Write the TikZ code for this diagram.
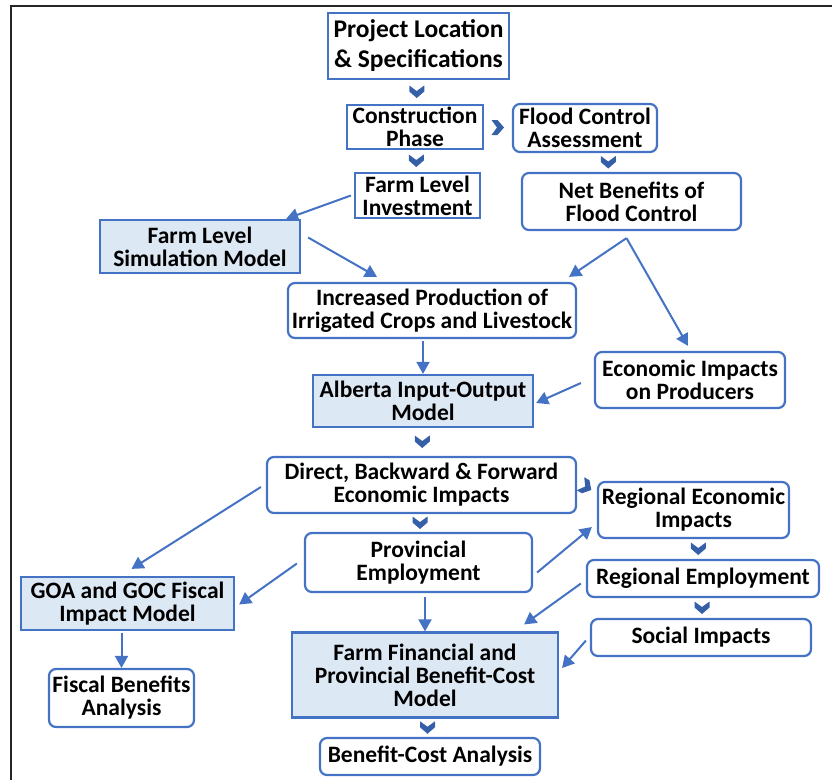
\documentclass[tikz,border=0pt]{standalone}
\usepackage{fontspec}
\setmainfont{Carlito}
\usetikzlibrary{positioning, arrows.meta, calc}
\definecolor{edgeblue}{HTML}{4472C4}
\definecolor{chevblue}{HTML}{3560A8}
\definecolor{modelfill}{HTML}{DDE8F5}

\begin{document}
\begin{tikzpicture}[x=1pt, y=-1pt,
  box/.style={draw=edgeblue, line width=2.2pt, align=center, inner sep=0pt,
              font=\bfseries\fontsize{23.5}{23}\selectfont},
  sqbox/.style={box},
  rbox/.style={box, rounded corners=7pt},
  modelbox/.style={box, fill=modelfill},
  arr/.style={draw=edgeblue, line width=2pt, -{Triangle[length=12pt, width=13pt]}},
  chev/.pic={\fill[chevblue] (-7.5,-6.5) -- (0,-1) -- (7.5,-6.5) -- (7.5,-0.5)
                             -- (0,6) -- (-7.5,-0.5) -- cycle;}
]
\useasboundingbox (0,0) rectangle (832,780);

%--- Frame (top and left only)
\draw[black!85, line width=2.5pt] (11,780) -- (11,6) -- (832,6);

%=== TOP: project and construction ===
\node[sqbox, minimum width=181, minimum height=66,
      font=\bfseries\fontsize{25.5}{30}\selectfont] (proj) at (418.5,46)
      {Project Location\\\& Specifications};
\node[sqbox, minimum width=136, minimum height=44] (cons) at (415,127) {Construction\\Phase};
\node[rbox, minimum width=144, minimum height=48] (flood) at (585,128) {Flood Control\\Assessment};
\node[sqbox, minimum width=125, minimum height=45] (fli) at (417.5,195.5) {Farm Level\\Investment};
\node[rbox, minimum width=219, minimum height=57] (net) at (631.5,201.5) {Net Benefits of\\Flood Control};

%=== MIDDLE: farm model and production ===
\node[modelbox, minimum width=200, minimum height=53] (fls) at (200,246.5) {Farm Level\\Simulation Model};
\node[rbox, minimum width=288, minimum height=55] (inc) at (432,310.5)
      {Increased Production of\\Irrigated Crops and Livestock};
\node[modelbox, minimum width=220, minimum height=52] (alb) at (423,401) {Alberta Input-Output\\Model};
\node[rbox, minimum width=190, minimum height=56] (eip) at (690,380) {Economic Impacts\\on Producers};

%=== LOWER: impacts ===
\node[rbox, minimum width=309, minimum height=56] (dir) at (421.5,485)
      {Direct, Backward \& Forward\\Economic Impacts};
\node[rbox, minimum width=227, minimum height=59] (prov) at (418.5,562.5) {Provincial\\Employment};
\node[rbox, minimum width=191, minimum height=56] (rei) at (693.5,510) {Regional Economic\\Impacts};
\node[rbox, minimum width=232, minimum height=37] (remp) at (703,578.5) {Regional Employment};
\node[rbox, minimum width=220, minimum height=37] (soc) at (701,637.5) {Social Impacts};

%=== BOTTOM: fiscal and benefit-cost ===
\node[modelbox, minimum width=213, minimum height=53] (goa) at (127.5,603.5) {GOA and GOC Fiscal\\Impact Model};
\node[rbox, minimum width=145, minimum height=58] (fba) at (121.5,698) {Fiscal Benefits\\Analysis};
\node[modelbox, minimum width=266, minimum height=85] (ffp) at (425,675)
      {Farm Financial and\\Provincial Benefit-Cost\\Model};
\node[rbox, minimum width=220, minimum height=37] (bca) at (430,756.5) {Benefit-Cost Analysis};

%--- Chevron links
\pic at ($(proj.south)!0.5!(cons.north)$) {chev};
\pic[rotate=90] at ($(cons.east)!0.5!(flood.west)$) {chev};
\pic at ($(cons.south)!0.5!(fli.north)$) {chev};
\pic at ($(flood.south)!0.5!(net.north)$) {chev};
\pic at ($(alb.south)!0.5!(dir.north)$) {chev};
\pic at ($(dir.south)!0.5!(prov.north)$) {chev};
\pic[rotate=60] at ([xshift=9pt, yshift=-2pt]dir.east) {chev};
\pic at ($(rei.south)!0.5!(remp.north)$) {chev};
\pic at ($(remp.south)!0.5!(soc.north)$) {chev};
\pic at ($(ffp.south)!0.5!(bca.north)$) {chev};

%--- Arrow links
\draw[arr] ([xshift=-3pt]fli.west) -- ([xshift=-15pt]fls.north east);
\draw[arr] ([xshift=7pt, yshift=9pt]fls.east) -- ([xshift=-55pt, yshift=5pt]inc.north);
\draw[arr] ([xshift=-5pt, yshift=-7pt]net.south) -- ([xshift=-8pt, yshift=5pt]inc.north east);
\draw[arr] ([xshift=-5pt, yshift=-7pt]net.south) -- ([xshift=-2pt, yshift=5pt]eip.north);
\draw[arr] ([yshift=-2pt]alb.north |- inc.south) -- (alb.north);
\draw[arr] ([xshift=-13pt, yshift=-3pt]eip.west) -- ([xshift=2pt, yshift=-2pt]alb.east);
\draw[arr] ([xshift=-5pt, yshift=-2pt]dir.west) -- ([xshift=4pt, yshift=7pt]goa.north);
\draw[arr] ([xshift=-7pt, yshift=-1pt]prov.west) -- ([xshift=4pt, yshift=-1pt]goa.east);
\draw[arr] ([yshift=-2pt]fba.north |- goa.south) -- (fba.north);
\draw[arr] ([xshift=4pt, yshift=-10pt]prov.east) -- ([xshift=-5pt, yshift=-17pt]rei.west);
\draw[arr] ([yshift=-4pt]ffp.north |- prov.south) -- (ffp.north);
\draw[arr] ([xshift=-5pt, yshift=-5pt]remp.west) -- ([xshift=-35pt, yshift=7pt]ffp.north east);
\draw[arr] ([xshift=-4pt, yshift=-3pt]soc.west) -- ([xshift=3pt, yshift=7pt]ffp.east);

\end{tikzpicture}
\end{document}
